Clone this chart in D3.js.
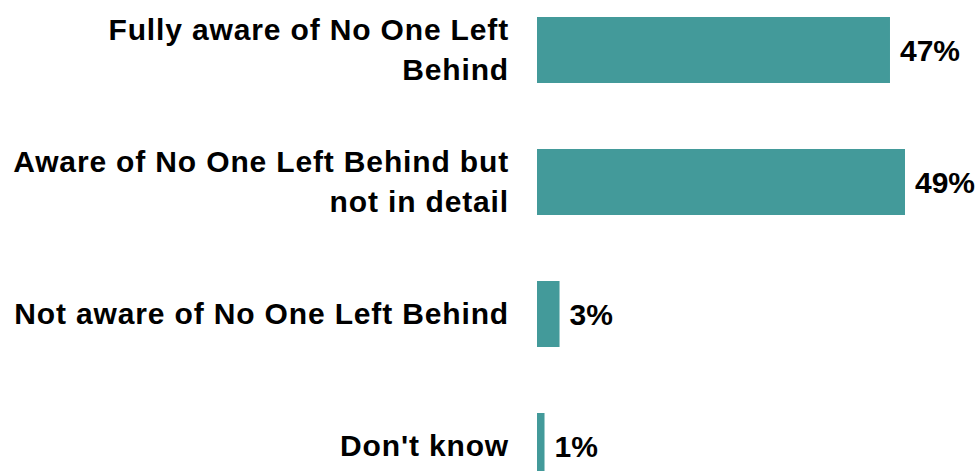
<!DOCTYPE html>
<html>
<head>
<meta charset="utf-8">
<script src="https://cdn.jsdelivr.net/npm/d3@7"></script>
<style>
  html, body { margin: 0; padding: 0; background: #ffffff; }
  svg { display: block; }
  text { font-family: "Liberation Sans", Arial, sans-serif; font-weight: bold; fill: #000; }
</style>
</head>
<body>
<svg id="chart" width="978" height="471"></svg>
<script>
// Awareness of "No One Left Behind" (share of respondents)
const categories = [
  "Fully aware of No One Left\nBehind",
  "Aware of No One Left Behind but\nnot in detail",
  "Not aware of No One Left Behind",
  "Don't know"
];
const values = [47, 49, 3, 1];
const valueLabels = ["47%", "49%", "3%", "1%"];

const svg = d3.select("#chart");
const fontSize = 30;
const labelRight = 509;
const lineHeight = 40;

const x = d3.scaleLinear().domain([0, 49]).range([537, 905]);
const y = d3.scaleBand().domain(categories).range([17, 479]).paddingInner(0.5).paddingOuter(0);

// bars
svg.append("g").selectAll("rect")
  .data(categories)
  .join("rect")
  .attr("x", x(0))
  .attr("y", d => y(d))
  .attr("width", (d, i) => x(values[i]) - x(0))
  .attr("height", y.bandwidth())
  .attr("fill", "#439a9a");

// value labels
svg.append("g").selectAll("text")
  .data(categories)
  .join("text")
  .attr("x", (d, i) => x(values[i]) + 10)
  .attr("y", d => y(d) + y.bandwidth() / 2)
  .attr("dy", "0.35em")
  .style("font-size", fontSize + "px")
  .text((d, i) => valueLabels[i]);

// category labels, right-aligned, one tspan per line
svg.append("g").selectAll("text")
  .data(categories)
  .join("text")
  .attr("text-anchor", "end")
  .style("font-size", fontSize + "px")
  .style("letter-spacing", "0.85px")
  .each(function(d) {
    const t = d3.select(this);
    const lines = d.split("\n");
    const cy = y(d) + y.bandwidth() / 2;
    const first = cy - (lines.length - 1) * lineHeight / 2;
    lines.forEach((l, i) => {
      t.append("tspan")
        .attr("x", labelRight)
        .attr("y", first + i * lineHeight)
        .attr("dy", "0.33em")
        .text(l);
    });
  });
</script>
</body>
</html>
